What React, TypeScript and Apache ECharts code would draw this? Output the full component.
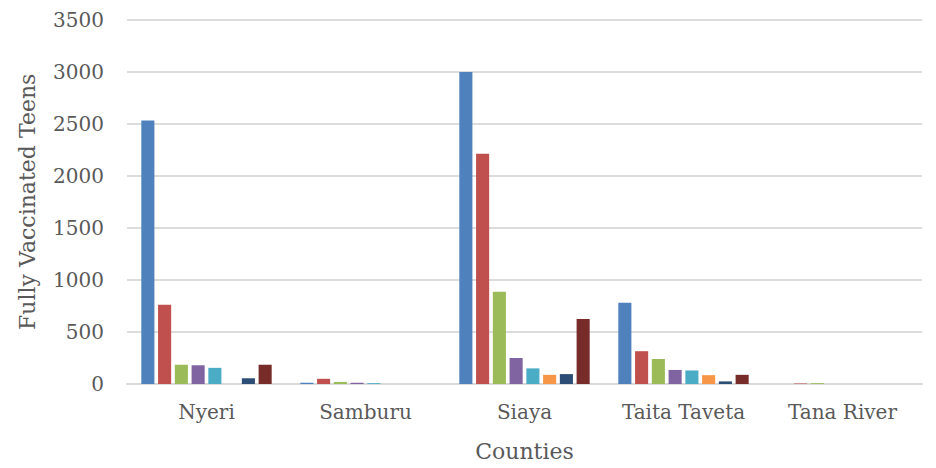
import React, { useEffect, useRef } from "react";
import * as echarts from "echarts";

const counties = ["Nyeri", "Samburu", "Siaya", "Taita Taveta", "Tana River"];
const series1 = [2530, 12, 2995, 780, 0];
const series2 = [760, 50, 2210, 315, 5];
const series3 = [185, 20, 885, 240, 8];
const series4 = [180, 12, 250, 135, 0];
const series5 = [155, 8, 150, 130, 0];
const series6 = [0, 0, 88, 85, 0];
const series7 = [55, 0, 95, 25, 0];
const series8 = [185, 0, 625, 88, 0];

const seriesNames = ["Series 1", "Series 2", "Series 3", "Series 4", "Series 5", "Series 6", "Series 7", "Series 8"];
const seriesData = [series1, series2, series3, series4, series5, series6, series7, series8];
const colors = ["#4F81BD", "#C0504D", "#9BBB59", "#8064A2", "#4BACC6", "#F79646", "#2C4D75", "#772C2A"];

const FONT = "'DejaVu Serif', serif";

export default function App() {
  const ref = useRef<HTMLDivElement>(null);
  useEffect(() => {
    if (!ref.current) return;
    const chart = echarts.init(ref.current, null, { renderer: "svg" });
    chart.setOption({
      animation: false,
      color: colors,
      grid: { left: 127, right: 14, top: 19.5, bottom: 84, containLabel: false },
      xAxis: {
        type: "category",
        data: counties,
        name: "Counties",
        nameLocation: "middle",
        nameGap: 56,
        nameTextStyle: { fontFamily: FONT, fontSize: 22, color: "#595959" },
        axisLine: { lineStyle: { color: "#d9d9d9", width: 2 } },
        axisTick: { show: false },
        axisLabel: { fontFamily: FONT, fontSize: 20, color: "#595959", margin: 18, interval: 0 },
      },
      yAxis: {
        type: "value",
        min: 0,
        max: 3500,
        interval: 500,
        name: "Fully Vaccinated Teens",
        nameLocation: "middle",
        nameGap: 89,
        nameTextStyle: { fontFamily: FONT, fontSize: 22, color: "#595959" },
        axisLine: { show: false },
        axisTick: { show: false },
        axisLabel: {
          fontFamily: FONT,
          fontSize: 20,
          color: "#595959",
          margin: 23,
          formatter: (v: number) => String(v),
        },
        splitLine: { lineStyle: { color: "#dcdcdc", width: 2 } },
      },
      series: seriesData.map((d, i) => ({
        type: "bar",
        name: seriesNames[i],
        data: d,
        barGap: "28%",
        barCategoryGap: "18%",
        itemStyle: { color: colors[i] },
      })),
    });
    return () => chart.dispose();
  }, []);
  return <div ref={ref} style={{ position: "fixed", left: 0, top: 0, width: 936, height: 468, background: "#fff" }} />;
}
